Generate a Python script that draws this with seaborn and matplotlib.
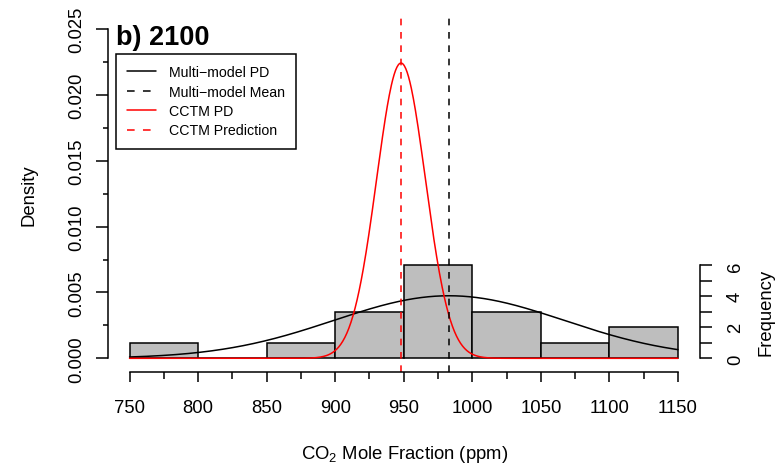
import numpy as np
import pandas as pd
import matplotlib
matplotlib.use("Agg")
import matplotlib.pyplot as plt
from matplotlib.lines import Line2D
from matplotlib.ticker import FixedLocator
import seaborn as sns

# Histogram of the multi-model CO2 values for 2100 (counts per 50 ppm bin)
bin_edges = [750, 800, 850, 900, 950, 1000, 1050, 1100, 1150]
bin_counts = [1, 0, 1, 3, 6, 3, 1, 2]

# Normal fits
mm_mean, mm_sd = 983.0, 84.0        # multi-model
cctm_mean, cctm_sd = 948.0, 17.8    # CCTM

x_ticks = [750, 800, 850, 900, 950, 1000, 1050, 1100, 1150]
x_minor = [775, 825, 875, 925, 975, 1025, 1075, 1125]
dens_ticks = [0.000, 0.005, 0.010, 0.015, 0.020, 0.025]
dens_minor = [0.0025, 0.0075, 0.0125, 0.0175, 0.0225]
dens_labels = ["0.000", "0.005", "0.010", "0.015", "0.020", "0.025"]
freq_ticks = [0, 1, 2, 3, 4, 5, 6]
freq_labels = ["0", "", "2", "", "4", "", "6"]

legend_labels = ["Multi\u2212model PD", "Multi\u2212model Mean", "CCTM PD", "CCTM Prediction"]

sns.set_style("ticks")
plt.rcParams["font.family"] = ["Liberation Sans", "DejaVu Sans"]
plt.rcParams["mathtext.fontset"] = "custom"
plt.rcParams["mathtext.rm"] = "Liberation Sans"
plt.rcParams["lines.scale_dashes"] = False
for key in ("text.color", "axes.labelcolor", "xtick.color", "ytick.color",
            "axes.edgecolor"):
    plt.rcParams[key] = "black"

W, H = 782, 464
fig = plt.figure(figsize=(W / 100, H / 100), dpi=100)
ax = fig.add_axes([107.6 / W, 1 - 372.5 / H, 592.3 / W, 355.7 / H])
ax.patch.set_alpha(0)

mids = [(a + b) / 2 for a, b in zip(bin_edges[:-1], bin_edges[1:])]
hist_df = pd.DataFrame({"co2": mids, "count": bin_counts})
n_total = sum(bin_counts)
binw = bin_edges[1] - bin_edges[0]

sns.histplot(data=hist_df, x="co2", weights="count", bins=list(bin_edges),
             stat="density", color="#BEBEBE", edgecolor="black",
             linewidth=1.1, alpha=1, ax=ax)

grid = np.linspace(bin_edges[0], bin_edges[-1], 801)


def normal_pdf(x, mu, sd):
    return np.exp(-0.5 * ((x - mu) / sd) ** 2) / (sd * np.sqrt(2 * np.pi))


sns.lineplot(x=grid, y=normal_pdf(grid, mm_mean, mm_sd), color="black",
             linewidth=1.1, ax=ax)
sns.lineplot(x=grid, y=normal_pdf(grid, cctm_mean, cctm_sd), color="#FF0000",
             linewidth=1.1, ax=ax)

dash = (0, (4.8, 4.8))
ax.axvline(mm_mean, color="black", linestyle=dash, linewidth=1.1)
ax.axvline(cctm_mean, color="#FF0000", linestyle=dash, linewidth=1.1)

ax.set_xlim(734, 1166)
ax.set_ylim(-0.001, 0.026)

for s in ("top", "right"):
    ax.spines[s].set_visible(False)
for s in ("left", "bottom"):
    ax.spines[s].set_linewidth(1.1)
ax.spines["left"].set_bounds(0, 0.025)
ax.spines["bottom"].set_bounds(750, 1150)

ax.set_xticks(x_ticks)
ax.set_xticklabels([str(v) for v in x_ticks])
ax.xaxis.set_minor_locator(FixedLocator(x_minor))
ax.set_yticks(dens_ticks)
ax.set_yticklabels(dens_labels)
ax.yaxis.set_minor_locator(FixedLocator(dens_minor))

ax.tick_params(axis="x", which="major", length=7.5, width=1.1, pad=12,
               labelsize=13.3, direction="out")
ax.tick_params(axis="x", which="minor", length=5, width=1.1, direction="out")
ax.tick_params(axis="y", which="major", length=8.8, width=1.1, pad=7.6,
               labelsize=13.3, direction="out")
ax.tick_params(axis="y", which="minor", length=3.5, width=1.1, direction="out")
for lab in ax.get_yticklabels():
    lab.set_rotation(90)
    lab.set_va("center")

ax.set_xlabel("")
ax.set_ylabel("")

# Right axis in frequency units
ax2 = ax.twinx()
scale = n_total * binw
ax2.set_ylim(ax.get_ylim()[0] * scale, ax.get_ylim()[1] * scale)
for s in ("top", "left", "bottom"):
    ax2.spines[s].set_visible(False)
ax2.spines["right"].set_linewidth(1.1)
ax2.spines["right"].set_bounds(0, 6)
ax2.set_yticks(freq_ticks)
ax2.set_yticklabels(freq_labels)
ax2.tick_params(axis="y", which="major", length=8.6, width=1.1, pad=11,
                labelsize=13.3, direction="out")
for lab in ax2.get_yticklabels():
    lab.set_rotation(90)
    lab.set_va("center")
ax2.set_ylabel("")

# Labels and title
fig.text(405 / W, 1 - 459 / H, "CO$_\\mathregular{2}$ Mole Fraction (ppm)",
         ha="center", va="baseline", fontsize=13.3)
fig.text(29.3 / W, 1 - 195 / H, "Density", rotation=90, ha="center",
         va="center", fontsize=13.3)
fig.text(766 / W, 1 - 312.5 / H, "Frequency", rotation=90, ha="center",
         va="center", fontsize=13.3)
fig.text(116 / W, 1 - 45 / H, "b) 2100", ha="left", va="baseline",
         fontsize=19.5, fontweight="bold")

legend_dash = (0, (5.5, 6.0))
handles = [
    Line2D([], [], color="black", linewidth=1.1),
    Line2D([], [], color="black", linewidth=1.1, linestyle=legend_dash),
    Line2D([], [], color="#FF0000", linewidth=1.1),
    Line2D([], [], color="#FF0000", linewidth=1.1, linestyle=legend_dash),
]
leg = ax2.legend(handles, legend_labels, loc="upper left",
                 bbox_to_anchor=(116 / W, 1 - 55 / H),
                 bbox_transform=fig.transFigure, borderaxespad=0,
                 frameon=True, fancybox=False, edgecolor="black",
                 framealpha=1, fontsize=10.2, handlelength=2.05,
                 handletextpad=0.9, labelspacing=0.38, borderpad=0.8)
leg.get_frame().set_linewidth(1.1)

fig.savefig("out.png", dpi=100)
